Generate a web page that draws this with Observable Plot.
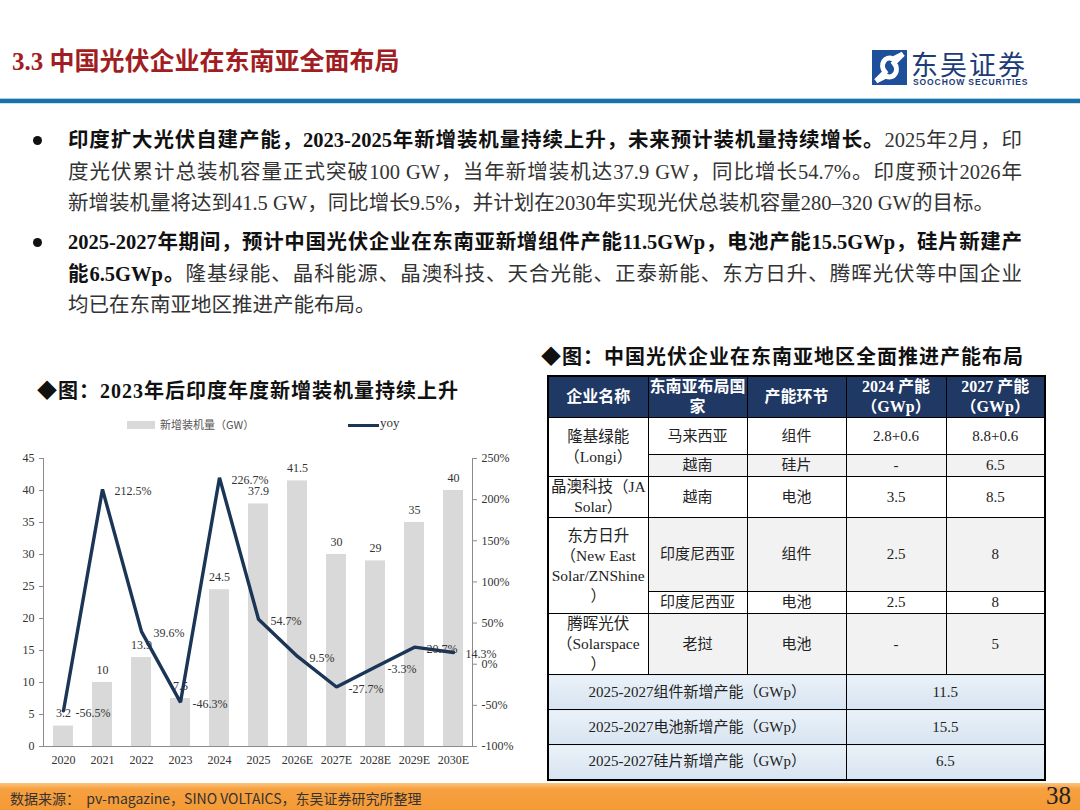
<!DOCTYPE html>
<html><head><meta charset="utf-8">
<script src="https://cdn.jsdelivr.net/npm/d3@7"></script>
<script src="https://cdn.jsdelivr.net/npm/@observablehq/plot@0.6"></script>
<style>
html,body{margin:0;padding:0;}
body{width:1080px;height:810px;position:relative;overflow:hidden;background:#fff;font-family:"Liberation Serif","Noto Sans CJK SC",serif;color:#222;}
.abs{position:absolute;white-space:nowrap;}
#title{left:12px;top:41px;font-weight:bold;font-size:25px;color:#a11d22;font-family:"Liberation Serif","Noto Sans CJK SC",serif;}
#hline{left:0;top:98px;width:1080px;height:6px;background:#1f6fa6;border-top:1px solid #9fd9f0;border-bottom:1px solid #bfe6f5;box-sizing:border-box;}
#logoText{left:911px;top:50px;font-size:27px;line-height:27px;color:#1d3c78;font-family:"Noto Sans CJK SC";letter-spacing:2px;}
#logoSub{left:913px;top:78px;font-size:8.5px;line-height:9px;font-weight:bold;color:#1d3c78;font-family:"Liberation Sans",sans-serif;letter-spacing:0.9px;}
#bullets{left:68px;width:954px;position:absolute;}
.line{height:31.5px;line-height:31.5px;font-size:20.5px;text-align:justify;white-space:normal;color:#333;}
.line.j{text-align-last:justify;}
.b{font-weight:bold;color:#111;}
.dot{position:absolute;width:9px;height:9px;border-radius:50%;background:#111;}
.ctitle{font-weight:bold;font-size:20px;color:#111;letter-spacing:1px;}
#legend .sw{position:absolute;}
#tbl{position:absolute;left:547px;top:375px;width:499px;border-collapse:collapse;table-layout:fixed;font-size:15px;color:#222;}
#tbl td,#tbl th{border:1.5px solid #000;text-align:center;vertical-align:middle;padding:0;line-height:19px;}
#tbl th{background:#1f3864;color:#fff;font-weight:bold;font-size:16px;line-height:20px;}
#tbl .g{background:#f2f2f2;}
#tbl .s{background:linear-gradient(#eaf1f8,#d7e4f1);}
#tbl{border:2px solid #000;}
#footer{left:0;top:783px;width:1080px;height:27px;background:linear-gradient(#fcc47e 0px,#f6a040 6px,#f59a35 100%);}
#src{left:10px;top:788px;font-size:14px;color:#333;font-family:"Noto Sans CJK SC";}
#page{right:9px;top:782px;font-size:25px;color:#222;}
</style></head>
<body>
<div id="title" class="abs">3.3 中国光伏企业在东南亚全面布局</div>
<svg class="abs" style="left:872px;top:50px" width="35" height="35" viewBox="0 0 35 35">
  <rect x="0" y="0" width="35" height="35" fill="#1e4f9a"/>
  <path d="M4,31 L13,22 C7,15 13,5 21,9 L31,4" fill="none" stroke="#fff" stroke-width="5"/>
  <path d="M31,4 L22,13 C28,20 22,30 14,26 L4,31" fill="none" stroke="#fff" stroke-width="5"/>
</svg>
<div id="logoText" class="abs">东吴证券</div>
<div id="logoSub" class="abs">SOOCHOW SECURITIES</div>
<div id="hline" class="abs"></div>

<div id="bullets"></div>

<div class="abs ctitle" style="left:37px;top:375px;">◆图：2023年后印度年度新增装机量持续上升</div>
<div id="legend"></div>
<div id="chart" class="abs" style="left:0;top:440px;"></div>

<div class="abs ctitle" style="left:541px;top:341px;">◆图：中国光伏企业在东南亚地区全面推进产能布局</div>
<table id="tbl"></table>

<div id="footer" class="abs"></div>
<div id="src" class="abs">数据来源：&nbsp;&nbsp;pv-magazine，SINO VOLTAICS，东吴证券研究所整理</div>
<div id="page" class="abs">38</div>

<script>
// ---------- chart data ----------
const years = ["2020","2021","2022","2023","2024","2025","2026E","2027E","2028E","2029E","2030E"];
const installs = [3.2, 10, 13.9, 7.5, 24.5, 37.9, 41.5, 30, 29, 35, 40];
const yoy = [-56.5, 212.5, 39.6, -46.3, 226.7, 54.7, 9.5, -27.7, -3.3, 20.7, 14.3];
const leftTicks = [0, 5, 10, 15, 20, 25, 30, 35, 40, 45];
const rightTicks = [-100, -50, 0, 50, 100, 150, 200, 250];
const legendLabels = ["新增装机量（GW）", "yoy"];

// ---------- text data ----------
const bulletParas = [
  [
    [["b","印度扩大光伏自建产能，2023-2025年新增装机量持续上升，未来预计装机量持续增长。"],["n","2025年2月，印"]],
    [["n","度光伏累计总装机容量正式突破100 GW，当年新增装机达37.9 GW，同比增长54.7%。印度预计2026年"]],
    [["n","新增装机量将达到41.5 GW，同比增长9.5%，并计划在2030年实现光伏总装机容量280–320 GW的目标。"]]
  ],
  [
    [["b","2025-2027年期间，预计中国光伏企业在东南亚新增组件产能11.5GWp，电池产能15.5GWp，硅片新建产"]],
    [["b","能6.5GWp。"],["n","隆基绿能、晶科能源、晶澳科技、天合光能、正泰新能、东方日升、腾晖光伏等中国企业"]],
    [["n","均已在东南亚地区推进产能布局。"]]
  ]
];

// ---------- table data ----------
const tableHeader = ["企业名称","东南亚布局国家","产能环节","2024 产能（GWp）","2027 产能（GWp）"];
const companyNames = [["隆基绿能","（Longi）"],["晶澳科技（JA","Solar）"],["东方日升","（New East","Solar/ZNShine","）"],["腾晖光伏","（Solarspace","）"]];
const companyRows = [
  [["马来西亚","组件","2.8+0.6","8.8+0.6"],["越南","硅片","-","6.5"]],
  [["越南","电池","3.5","8.5"]],
  [["印度尼西亚","组件","2.5","8"],["印度尼西亚","电池","2.5","8"]],
  [["老挝","电池","-","5"]]
];
const summaryLabels = ["2025-2027组件新增产能（GWp）","2025-2027电池新增产能（GWp）","2025-2027硅片新增产能（GWp）"];
const summaryValues = ["11.5","15.5","6.5"];

// ---------- bullets ----------
const bl = document.getElementById("bullets");
const paraTops = [125, 227];
bulletParas.forEach((para, pi) => {
  const box = document.createElement("div");
  box.style.cssText = `position:absolute;left:0;top:${paraTops[pi]}px;width:954px;`;
  para.forEach((line, li) => {
    const d = document.createElement("div");
    d.className = "line" + (li < para.length - 1 ? " j" : "");
    line.forEach(([k, t]) => {
      const s = document.createElement("span");
      if (k === "b") s.className = "b";
      s.textContent = t;
      d.appendChild(s);
    });
    box.appendChild(d);
  });
  bl.appendChild(box);
  const dot = document.createElement("div");
  dot.className = "dot";
  dot.style.left = "33px";
  dot.style.top = (paraTops[pi] + 11) + "px";
  document.body.appendChild(dot);
});
bl.style.left = "68px"; bl.style.top = "0px";

// ---------- legend ----------
const lg = document.getElementById("legend");
lg.innerHTML = `
  <div class="sw" style="left:127px;top:421px;width:28px;height:8px;background:#d9d9d9"></div>
  <div class="abs" style="left:160px;top:416px;font-size:11px;color:#555;font-family:'Noto Sans CJK SC'">${legendLabels[0]}</div>
  <div class="sw" style="left:348px;top:423.5px;width:31px;height:3px;background:#1b3556"></div>
  <div class="abs" style="left:380px;top:415px;font-size:13px;color:#333">${legendLabels[1]}</div>`;

// ---------- chart ----------
const toY = d3.scaleLinear([-100, 250], [0, 45]);
const rows = years.map((y, i) => ({year: y, v: installs[i], r: yoy[i], ry: toY(yoy[i])}));

const chart = Plot.plot({
  width: 540, height: 336,
  marginTop: 18, marginBottom: 30, marginLeft: 43, marginRight: 68,
  style: {fontFamily: '"Liberation Serif", serif', fontSize: "12px", color: "#333", background: "transparent", overflow: "visible"},
  x: {domain: years, paddingInner: 0.5, paddingOuter: 0.25},
  y: {domain: [0, 45]},
  marks: [
    Plot.barY(rows, {x: "year", y: "v", fill: "#d9d9d9"}),
    Plot.frame({anchor: "left", stroke: "#8c8c8c"}),
    Plot.frame({anchor: "right", stroke: "#8c8c8c"}),
    Plot.ruleY([0], {stroke: "#8c8c8c"}),
    Plot.axisY({anchor: "left", ticks: leftTicks, tickSize: 4, tickPadding: 5, label: null, stroke: "#8c8c8c", fill: "#333"}),
    Plot.axisY({anchor: "right", ticks: rightTicks.map(v => toY(v)), tickFormat: v => Math.round(toY.invert(v)) + "%", tickSize: 4, tickPadding: 5, label: null, stroke: "#8c8c8c", fill: "#333"}),
    Plot.axisX({anchor: "bottom", tickSize: 0, tickPadding: 9, label: null, fill: "#333"}),
    Plot.text(rows, {x: "year", y: "v", text: d => String(d.v), dy: -12.5, fontSize: 12, fill: "#333"}),
    Plot.line(rows, {x: "year", y: "ry", stroke: "#1b3556", strokeWidth: 3.4, strokeLinejoin: "miter"}),
    Plot.text(rows, {x: "year", y: "ry", text: d => d.r.toFixed(1) + "%", dx: 12, dy: 2, textAnchor: "start", fontSize: 12, fill: "#333"})
  ]
});
document.getElementById("chart").appendChild(chart);

// ---------- table ----------
const rowHeights = [37, 22, 40, 74, 22, 61];
const sumHeights = [35, 35, 35];
const tbl = document.getElementById("tbl");
const colW = [100, 99, 99, 100, 99];
let html = "<colgroup>" + colW.map(w => `<col style="width:${w}px">`).join("") + "</colgroup>";
html += `<tr style="height:40px">` + tableHeader.map(h => `<th>${h}</th>`).join("") + "</tr>";
let ri = 0;
companyRows.forEach((grp, gi) => {
  grp.forEach((r, k) => {
    const shade = ri % 2 === 1 ? ' class="g"' : "";
    html += `<tr style="height:${rowHeights[ri]}px">`;
    if (k === 0) html += `<td rowspan="${grp.length}" style="font-size:15.5px;line-height:20px">${companyNames[gi].join("<br>")}</td>`;
    html += r.map(c => `<td${shade}>${c}</td>`).join("");
    html += "</tr>";
    ri++;
  });
});
summaryLabels.forEach((s, i) => {
  html += `<tr style="height:${sumHeights[i]}px"><td colspan="3" class="s">${s}</td><td colspan="2" class="s">${summaryValues[i]}</td></tr>`;
});
tbl.innerHTML = html;
</script>
</body></html>
